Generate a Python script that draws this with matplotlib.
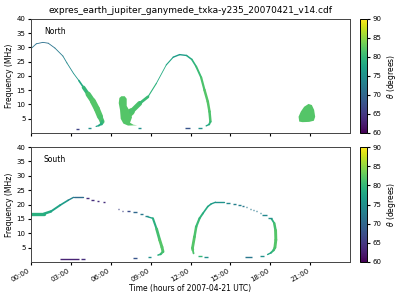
import numpy as np
import matplotlib
matplotlib.use("Agg")
import matplotlib.pyplot as plt
from matplotlib.collections import LineCollection
from matplotlib.ticker import FuncFormatter

# ---- data (hours of 2007-04-21, MHz, degrees) ----
# North: first arc
n1_hour = [0.0, 0.4, 0.9, 1.3, 1.8, 2.4, 2.7, 3.2, 3.6, 3.95, 4.3, 4.65, 4.95, 5.2, 5.35, 5.3, 5.1, 4.9]
n1_freq = [29.6, 31.3, 31.8, 31.5, 29.8, 27.0, 24.6, 20.9, 18.4, 16.0, 13.6, 11.2, 8.5, 5.7, 4.0, 3.2, 2.6, 2.3]
n1_theta = [72, 71, 71, 71, 72, 73, 74, 75, 77, 79, 81, 82, 82, 82, 81, 79, 78, 76]

# North: second arc (from the blob arm up and down)
n2_hour = [7.2, 7.55, 8.18, 8.8, 9.43, 10.18, 10.7, 11.18, 11.7, 12.1, 12.43, 12.8, 13.05, 13.3, 13.43, 13.5, 13.4, 13.18]
n2_freq = [6.0, 7.5, 10.4, 12.7, 17.4, 23.9, 26.6, 27.5, 27.2, 25.8, 23.3, 19.5, 15.1, 11.0, 7.5, 4.0, 3.0, 2.5]
n2_theta = [82, 82, 81, 80, 79, 78, 77, 76, 77, 79, 80, 81, 82, 82, 82, 81, 79, 77]

# North: blob around 07:00
blob1_hour = [6.65, 6.8, 7.05, 7.2, 7.2, 7.45, 7.6, 7.45, 7.7, 8.0, 7.3, 6.95, 6.75, 6.7, 6.6]
blob1_freq = [12.3, 12.9, 12.9, 12.0, 9.5, 7.5, 5.5, 3.6, 2.9, 2.7, 2.6, 3.3, 5.0, 8.0, 10.5]
blob1_theta = 82

# North: blob around 21:00
blob2_hour = [20.18, 20.13, 20.3, 20.55, 20.88, 21.13, 21.3, 21.38, 21.28, 20.93, 20.43]
blob2_freq = [4.0, 5.7, 7.5, 9.2, 10.2, 9.8, 8.1, 5.7, 4.3, 3.9, 3.8]
blob2_theta = 82

# North: short dashes near the bottom
n_dash_start = [3.35, 4.3, 8.05, 11.55, 12.6]
n_dash_end = [3.6, 4.5, 8.3, 11.98, 12.88]
n_dash_freq = [1.3, 1.8, 1.65, 1.6, 1.9]
n_dash_theta = [66, 75, 75, 68, 75]

# South: first arc
s1a_hour = [0.0, 0.98, 1.5, 2.2, 2.8, 3.2, 3.9]
s1a_freq = [16.8, 16.8, 17.6, 19.8, 21.5, 22.5, 22.5]
s1a_theta = [79, 79, 78, 77, 76, 71, 70]

s1b_hour = [8.8, 9.17, 9.45, 9.68, 9.85, 9.93, 9.75, 9.55]
s1b_freq = [15.7, 15.2, 11.5, 7.7, 5.2, 3.6, 2.7, 2.4]
s1b_theta = [76, 78, 80, 82, 82, 82, 80, 78]

# South: second arc
s2a_hour = [12.23, 12.17, 12.15, 12.3, 12.43, 12.68, 12.93, 13.3, 13.55, 13.88, 14.55]
s2a_freq = [3.0, 4.2, 4.9, 8.8, 12.3, 15.2, 16.9, 19.3, 20.2, 20.8, 20.8]
s2a_theta = [81, 82, 82, 82, 81, 80, 79, 78, 77, 76, 75]

s2b_hour = [18.1, 18.3, 18.4, 18.42, 18.35, 18.25, 18.05, 17.8]
s2b_freq = [15.0, 13.5, 11.0, 7.7, 5.0, 4.1, 3.2, 2.6]
s2b_theta = [78, 80, 82, 82, 82, 81, 79, 76]

# South: dashes
s_dash_start = [4.15, 4.55, 4.95, 5.45, 6.55, 6.85, 7.2, 7.7, 8.2, 8.6,
                2.2, 3.75, 7.68, 8.8,
                14.68, 15.17, 15.55, 15.88, 16.2, 16.45, 16.7, 16.95, 17.2, 17.35, 17.85,
                12.6, 13.0, 16.1, 17.25]
s_dash_end = [4.35, 4.75, 5.1, 5.55, 6.6, 6.9, 7.45, 7.95, 8.4, 8.8,
              3.6, 4.05, 8.0, 9.05,
              14.98, 15.43, 15.8, 16.05, 16.28, 16.53, 16.78, 17.03, 17.28, 17.78, 18.1,
              12.85, 13.3, 16.6, 17.5]
s_dash_freq = [22.2, 21.7, 21.3, 20.9, 18.4, 17.8, 17.6, 17.3, 16.6, 15.9,
               1.05, 1.05, 1.3, 1.6,
               20.4, 20.2, 19.8, 19.5, 19.0, 18.6, 18.1, 17.7, 17.2, 16.4, 15.2,
               2.0, 1.7, 1.7, 2.0]
s_dash_theta = [64, 64, 64, 64, 66, 66, 67, 70, 72, 74,
                63, 64, 68, 75,
                74, 73, 73, 72, 72, 72, 72, 72, 73, 74, 75,
                80, 75, 72, 75]

xticks = [0, 3, 6, 9, 12, 15, 18, 21]

cmap = plt.get_cmap("viridis")
norm = plt.Normalize(60, 90)


def track(ax, hours, freqs, thetas, widths):
    pts = np.column_stack([hours, freqs])
    segs = np.stack([pts[:-1], pts[1:]], axis=1)
    th = (np.array(thetas[:-1]) + np.array(thetas[1:])) / 2
    lc = LineCollection(segs, colors=cmap(norm(th)), linewidths=widths,
                        capstyle="round", joinstyle="round")
    ax.add_collection(lc)


fig = plt.figure(figsize=(4, 3), dpi=100)
ax1 = fig.add_axes([0.0775, 0.5567, 0.7975, 0.38])
ax2 = fig.add_axes([0.0775, 0.1267, 0.7975, 0.383])
cax1 = fig.add_axes([0.9, 0.5567, 0.0167, 0.38])
cax2 = fig.add_axes([0.9, 0.1267, 0.0167, 0.383])

# North
track(ax1, n1_hour, n1_freq, n1_theta,
      [0.6] * 8 + [1.2, 2.6, 3.8, 4.3, 4.3, 3.5, 2.3, 1.4, 0.9])
track(ax1, n2_hour, n2_freq, n2_theta,
      [5, 3.5, 2.0, 0.8, 0.6, 0.8, 1.0, 1.0, 1.1, 1.2, 1.4, 1.6, 1.8, 1.8, 1.8, 1.4, 1.0])
ax1.fill(blob1_hour, blob1_freq, color=cmap(norm(blob1_theta)), lw=0)
ax1.fill(blob2_hour, blob2_freq, color=cmap(norm(blob2_theta)), lw=0)
ax1.hlines(n_dash_freq, n_dash_start, n_dash_end,
           colors=cmap(norm(np.array(n_dash_theta))), lw=1.0)

# South
track(ax2, s1a_hour, s1a_freq, s1a_theta, [2.4, 1.8, 1.4, 1.2, 1.0, 1.0])
track(ax2, s1b_hour, s1b_freq, s1b_theta, [1.0, 1.5, 2.0, 2.1, 2.1, 1.6, 1.1])
track(ax2, s2a_hour, s2a_freq, s2a_theta, [1.3, 2.0, 2.0, 1.8, 1.6, 1.4, 1.2, 1.1, 1.0, 1.0])
track(ax2, s2b_hour, s2b_freq, s2b_theta, [1.3, 1.8, 2.1, 2.1, 1.8, 1.4, 1.0])
ax2.hlines(s_dash_freq, s_dash_start, s_dash_end,
           colors=cmap(norm(np.array(s_dash_theta))), lw=1.0)

for ax, name in [(ax1, "North"), (ax2, "South")]:
    ax.set_xlim(0, 24)
    ax.set_ylim(0, 40)
    ax.set_yticks([5, 10, 15, 20, 25, 30, 35, 40])
    ax.set_xticks(xticks)
    ax.set_ylabel("Frequency (MHz)", fontsize=5.5, labelpad=2)
    ax.tick_params(labelsize=5, length=2.5, pad=1.5)
    ax.text(0.04, 0.87, name, transform=ax.transAxes, fontsize=5.5)
    for s in ax.spines.values():
        s.set_linewidth(0.7)
        s.set_color("#444444")

ax1.set_xticklabels([])
ax2.xaxis.set_major_formatter(FuncFormatter(lambda v, p: "%02d:00" % int(v)))
for lab in ax2.get_xticklabels():
    lab.set_rotation(30)
    lab.set_ha("right")
ax2.set_xlabel("Time (hours of 2007-04-21 UTC)", fontsize=5.5, labelpad=1)
ax1.set_title("expres_earth_jupiter_ganymede_txka-y235_20070421_v14.cdf", fontsize=6.5, pad=4)

sm = plt.cm.ScalarMappable(cmap=cmap, norm=norm)
for cax in (cax1, cax2):
    cb = fig.colorbar(sm, cax=cax)
    cb.set_ticks([60, 65, 70, 75, 80, 85, 90])
    cb.ax.tick_params(labelsize=5, length=2.5, pad=1.5)
    cb.set_label(r"$\theta$ (degrees)", fontsize=5.5, labelpad=3)
    cb.outline.set_linewidth(0.7)

fig.savefig("out.png", dpi=100)
